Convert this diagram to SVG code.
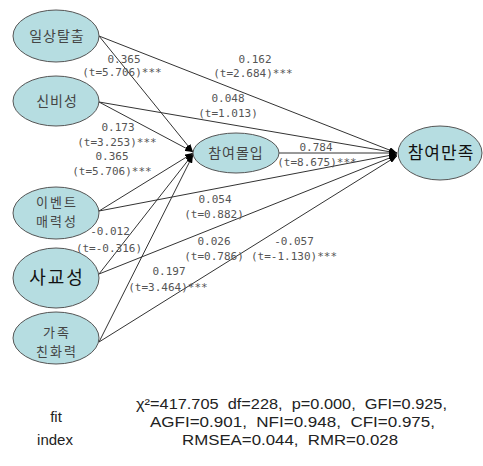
<svg xmlns="http://www.w3.org/2000/svg" width="483" height="466" viewBox="0 0 483 466">
<style>
.node ellipse{fill:#b6dde1;stroke:#555;stroke-width:1}
.nt{font-family:"Noto Sans CJK KR","Noto Sans",sans-serif;font-size:14px;fill:#444;text-anchor:middle;letter-spacing:1px}
.two{font-size:13px;letter-spacing:2px}
.big{font-size:17px;fill:#111}
.bold{font-size:18px;fill:#111;letter-spacing:2px}
.edge{stroke:#333;stroke-width:1;fill:none;marker-end:url(#arr)}
.lb{font-family:"DejaVu Sans Mono","Liberation Mono",monospace;font-size:11px;fill:#555;text-anchor:middle}
.fit{font-family:"Liberation Sans",Arial,sans-serif;font-size:15px;fill:#222}
</style>
<defs>
<marker id="arr" markerWidth="8" markerHeight="6" refX="8" refY="3" orient="auto" markerUnits="userSpaceOnUse">
<path d="M0,0 L8,3 L0,6 Z" fill="#000"/>
</marker>
</defs>
<rect width="483" height="466" fill="#fff"/>
<g id="connectors">
<line class="edge" x1="99" y1="36" x2="193" y2="152"/>
<line class="edge" x1="99" y1="36" x2="397" y2="153"/>
<line class="edge" x1="99" y1="102" x2="193" y2="152"/>
<line class="edge" x1="99" y1="102" x2="397" y2="153"/>
<line class="edge" x1="99" y1="211" x2="193" y2="153"/>
<line class="edge" x1="99" y1="211" x2="397" y2="154"/>
<line class="edge" x1="99" y1="274" x2="193" y2="154"/>
<line class="edge" x1="99" y1="274" x2="397" y2="155"/>
<line class="edge" x1="99" y1="342" x2="193" y2="155"/>
<line class="edge" x1="99" y1="342" x2="397" y2="156"/>
<line class="edge" x1="279" y1="153" x2="397" y2="153"/>
</g>
<g id="labels">
<text class="lb" x="124" y="63">0.365</text>
<text class="lb" x="122" y="76">(t=5.706)***</text>
<text class="lb" x="118" y="131">0.173</text>
<text class="lb" x="117" y="146">(t=3.253)***</text>
<text class="lb" x="112" y="160">0.365</text>
<text class="lb" x="112" y="175">(t=5.706)***</text>
<text class="lb" x="255" y="63">0.162</text>
<text class="lb" x="253" y="77">(t=2.684)***</text>
<text class="lb" x="228" y="102">0.048</text>
<text class="lb" x="228" y="117">(t=1.013)</text>
<text class="lb" x="316" y="151">0.784</text>
<text class="lb" x="317" y="166">(t=8.675)***</text>
<text class="lb" x="215" y="203">0.054</text>
<text class="lb" x="214" y="218">(t=0.882)</text>
<text class="lb" x="110" y="235">-0.012</text>
<text class="lb" x="109" y="252">(t=-0.316)</text>
<text class="lb" x="214" y="245">0.026</text>
<text class="lb" x="214" y="260">(t=0.786)</text>
<text class="lb" x="294" y="245">-0.057</text>
<text class="lb" x="294" y="260">(t=-1.130)***</text>
<text class="lb" x="169" y="275">0.197</text>
<text class="lb" x="168" y="291">(t=3.464)***</text>
</g>
<g id="n1" class="node"><ellipse cx="56" cy="36" rx="43" ry="26"/><text class="nt" x="57" y="41">일상탈출</text></g>
<g id="n2" class="node"><ellipse cx="56" cy="101" rx="43" ry="25"/><text class="nt" x="57" y="106">신비성</text></g>
<g id="n3" class="node"><ellipse cx="56" cy="213" rx="43" ry="26"/><text class="nt two" x="57" y="207">이벤트</text><text class="nt two" x="57" y="226">매력성</text></g>
<g id="n4" class="node"><ellipse cx="56" cy="278" rx="43" ry="30"/><text class="nt bold" x="57" y="284">사교성</text></g>
<g id="n5" class="node"><ellipse cx="56" cy="338" rx="43" ry="26"/><text class="nt two" x="57" y="337">가족</text><text class="nt two" x="57" y="356">친화력</text></g>
<g id="n6" class="node"><ellipse cx="236" cy="153" rx="43" ry="20"/><text class="nt" x="236" y="158">참여몰입</text></g>
<g id="n7" class="node"><ellipse cx="440" cy="153" rx="42" ry="27"/><text class="nt big" x="441" y="159">참여만족</text></g>
<g id="fitindex">
<text class="fit" x="56" y="422" text-anchor="middle" font-size="16">fit</text>
<text class="fit" x="55" y="445" text-anchor="middle" font-size="16">index</text>
<text class="fit" x="136" y="409" textLength="311" lengthAdjust="spacingAndGlyphs" xml:space="preserve">χ²=417.705  df=228,  p=0.000,  GFI=0.925,</text>
<text class="fit" x="150" y="427" textLength="285" lengthAdjust="spacingAndGlyphs" xml:space="preserve">AGFI=0.901,  NFI=0.948,  CFI=0.975,</text>
<text class="fit" x="182" y="445" textLength="216" lengthAdjust="spacingAndGlyphs" xml:space="preserve">RMSEA=0.044,  RMR=0.028</text>
</g>
</svg>
